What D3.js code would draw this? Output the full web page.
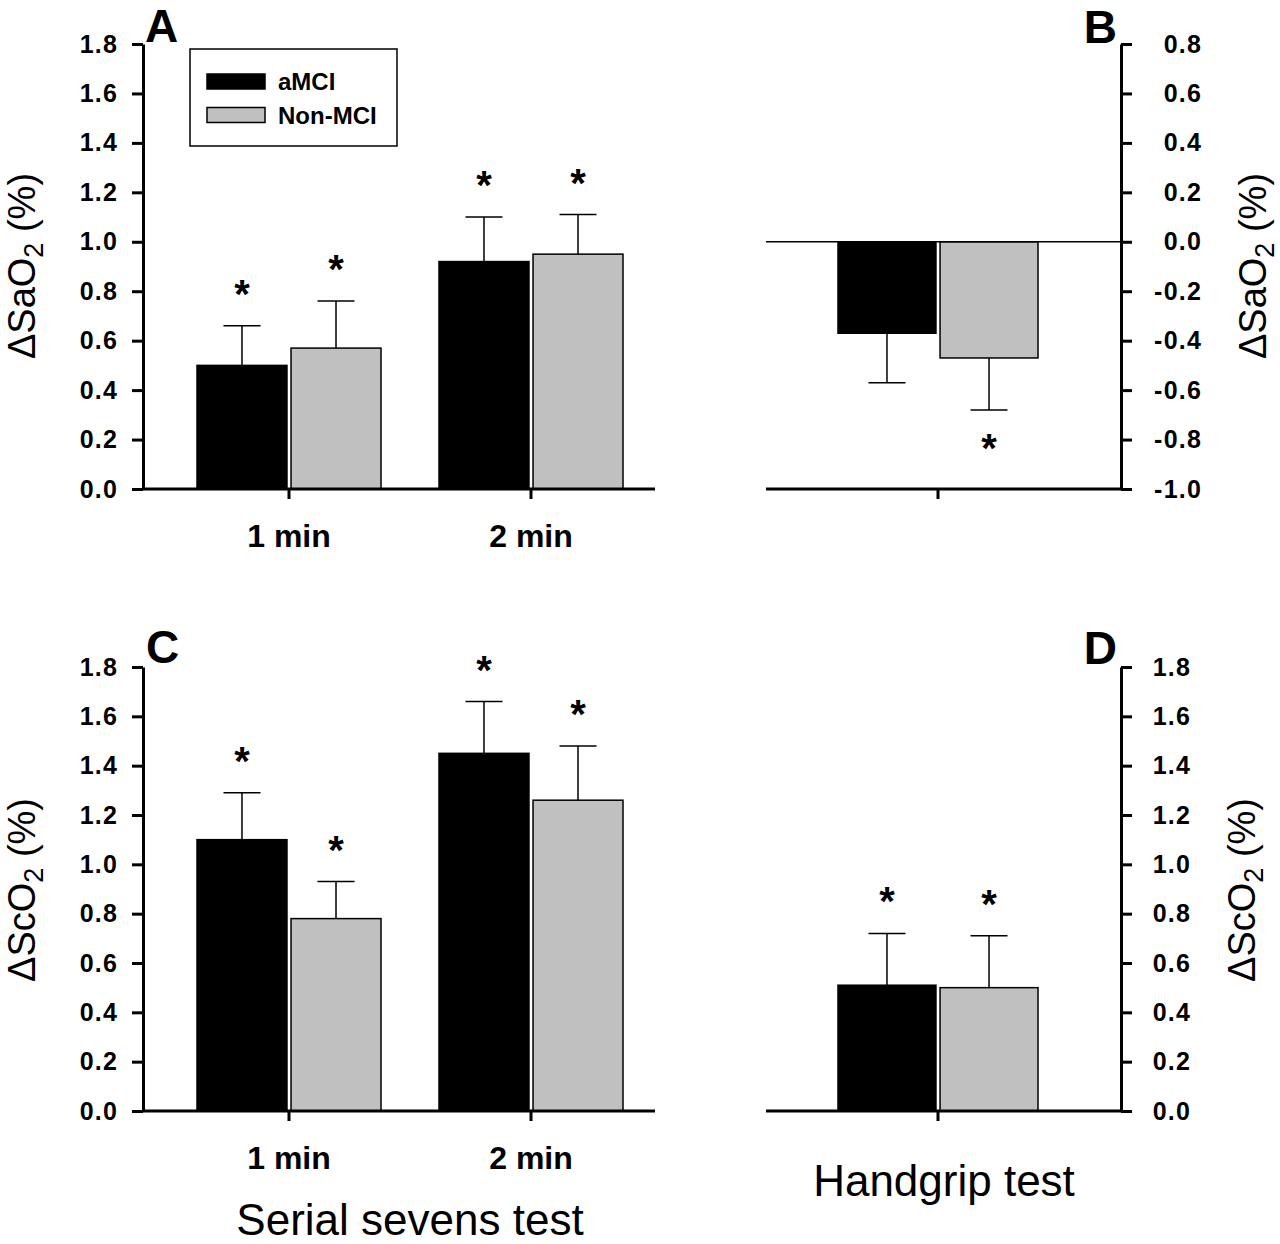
<!DOCTYPE html>
<html>
<head>
<meta charset="utf-8">
<script src="https://cdn.jsdelivr.net/npm/d3@7"></script>
<style>
  body { margin: 0; background: #fff; }
  text { font-family: "Liberation Sans", Arial, sans-serif; }
</style>
</head>
<body>
<div id="chart"></div>
<script>
// categories and series
const serialCategories = ['1 min', '2 min'];
const handgripCategories = ['Handgrip'];
const series = ['aMCI', 'Non-MCI'];
const seriesColors = ['#000000', '#c0c0c0'];

// A: delta SaO2, serial sevens test (mean, SE)
const saSerialAmci = [0.50, 0.92];
const saSerialAmciErr = [0.16, 0.18];
const saSerialNon = [0.57, 0.95];
const saSerialNonErr = [0.19, 0.16];
const saSerialSig = [[true, true], [true, true]];

// B: delta SaO2, handgrip test
const saGripAmci = [-0.37];
const saGripAmciErr = [0.20];
const saGripNon = [-0.47];
const saGripNonErr = [0.21];
const saGripSig = [[false, true]];

// C: delta ScO2, serial sevens test
const scSerialAmci = [1.10, 1.45];
const scSerialAmciErr = [0.19, 0.21];
const scSerialNon = [0.78, 1.26];
const scSerialNonErr = [0.15, 0.22];
const scSerialSig = [[true, true], [true, true]];

// D: delta ScO2, handgrip test
const scGripAmci = [0.51];
const scGripAmciErr = [0.21];
const scGripNon = [0.50];
const scGripNonErr = [0.21];
const scGripSig = [[true, true]];

// tick labels
const ticksPos = [0, 0.2, 0.4, 0.6, 0.8, 1.0, 1.2, 1.4, 1.6, 1.8];
const ticksB = [-1.0, -0.8, -0.6, -0.4, -0.2, 0, 0.2, 0.4, 0.6, 0.8];

const W = 1280, H = 1244;
const fmt = d => d3.format('.1f')(d).replace('\u2212', '-');

const svg = d3.select('#chart')
  .append('svg')
    .attr('width', W)
    .attr('height', H)

function panel(opt) {
  const g = svg.append('g')

  const y = d3.scaleLinear()
    .domain(d3.extent(opt.ticks))
    .range(opt.yRange)

  const x = d3.scaleBand()
    .domain(opt.categories)
    .range(opt.xRange)

  const xs = d3.scaleBand()
    .domain(series)
    .range([-opt.half, opt.half])
    .paddingInner(opt.gap)

  // rows: one per category
  const rows = opt.categories.map((c, i) => ({
    cat: c,
    bars: series.map((s, j) => ({
      s, j,
      v: opt.values[j][i],
      e: opt.errors[j][i],
      sig: opt.sig[i][j]
    }))
  }))

  const groups = g.selectAll('.cat')
    .data(rows)
    .enter().append('g')
      .attr('transform', d => `translate(${x(d.cat) + x.bandwidth() / 2}, 0)`)

  const bar = groups.selectAll('.bar')
    .data(d => d.bars)
    .enter().append('g')

  bar.append('rect')
    .attr('x', d => xs(d.s))
    .attr('width', xs.bandwidth())
    .attr('y', d => y(Math.max(0, d.v)))
    .attr('height', d => Math.abs(y(d.v) - y(0)))
    .attr('fill', d => seriesColors[d.j])
    .attr('stroke', '#000')
    .attr('stroke-width', 1.5)

  // error bars, away from zero
  const tip = d => d.v >= 0 ? d.v + d.e : d.v - d.e
  const mid = d => xs(d.s) + xs.bandwidth() / 2
  bar.append('line')
    .attr('x1', mid).attr('x2', mid)
    .attr('y1', d => y(d.v))
    .attr('y2', d => y(tip(d)))
    .attr('stroke', '#000')
    .attr('stroke-width', 1.5)
  bar.append('line')
    .attr('x1', d => mid(d) - 18.5)
    .attr('x2', d => mid(d) + 18.5)
    .attr('y1', d => y(tip(d)))
    .attr('y2', d => y(tip(d)))
    .attr('stroke', '#000')
    .attr('stroke-width', 1.5)

  // significance stars
  bar.filter(d => d.sig).append('text')
    .attr('x', mid)
    .attr('y', d => d.v >= 0 ? y(tip(d)) - 38 + 20 : y(tip(d)) + 32 + 20)
    .attr('text-anchor', 'middle')
    .attr('font-size', 40)
    .attr('font-weight', 'bold')
    .text('*')

  // zero line when axis starts below zero
  if (y.domain()[0] < 0) {
    g.append('line')
      .attr('x1', opt.lineX[0]).attr('x2', opt.lineX[1])
      .attr('y1', y(0)).attr('y2', y(0))
      .attr('stroke', '#000')
      .attr('stroke-width', 1.5)
  }

  // x axis baseline
  const yBase = y(y.domain()[0])
  g.append('line')
    .attr('x1', opt.lineX[0]).attr('x2', opt.lineX[1])
    .attr('y1', yBase).attr('y2', yBase)
    .attr('stroke', '#000')
    .attr('stroke-width', 3)

  const xAxis = g.append('g')
    .attr('transform', `translate(0, ${yBase})`)
    .call(d3.axisBottom(x).tickSize(10).tickSizeOuter(0).tickPadding(25)
      .tickFormat(d => opt.showCats ? d : ''))
  xAxis.select('.domain').remove()
  xAxis.selectAll('line').attr('stroke-width', 3)
  xAxis.selectAll('text')
    .attr('font-size', 32)
    .attr('font-weight', 'bold')
    .attr('fill', '#000')

  // y axis
  const axisX = opt.right ? opt.lineX[1] : opt.lineX[0]
  const yAxis = g.append('g')
    .attr('transform', `translate(${axisX}, 0)`)
    .call((opt.right ? d3.axisRight(y) : d3.axisLeft(y))
      .tickValues(opt.ticks).tickFormat(fmt).tickSize(11).tickSizeOuter(0).tickPadding(15))
  yAxis.select('.domain').attr('stroke-width', 3)
  yAxis.selectAll('line').attr('stroke-width', 3)
  yAxis.selectAll('text')
    .attr('font-size', 25)
    .attr('font-weight', 'bold')
    .attr('letter-spacing', 1.2)
    .attr('fill', '#000')
  if (opt.right) {
    yAxis.selectAll('text')
      .attr('text-anchor', 'end')
      .attr('x', opt.labelEnd - axisX)
  } else {
    yAxis.selectAll('text').attr('x', -25)
  }

  // axis title
  const t = svg.append('text')
    .attr('transform', `translate(${opt.titlePos[0]}, ${opt.titlePos[1]}) rotate(-90)`)
    .attr('text-anchor', 'middle')
    .attr('font-size', 38)
  t.append('tspan').text(opt.title)
  t.append('tspan').attr('font-size', 27).attr('dy', 8).text('2')
  t.append('tspan').attr('dy', -8).text(' (%)')

  // panel letter
  svg.append('text')
    .attr('x', opt.letterPos[0])
    .attr('y', opt.letterPos[1])
    .attr('text-anchor', opt.right ? 'end' : 'start')
    .attr('font-size', 46)
    .attr('font-weight', 'bold')
    .text(opt.letter)
}

panel({
  letter: 'A', letterPos: [145, 42],
  categories: serialCategories, showCats: true,
  values: [saSerialAmci, saSerialNon], errors: [saSerialAmciErr, saSerialNonErr], sig: saSerialSig,
  ticks: ticksPos, yRange: [489, 44],
  xRange: [168, 652], lineX: [143, 655], half: 92, gap: 0.043,
  title: '\u0394SaO', titlePos: [35, 266]
})

panel({
  letter: 'B', letterPos: [1117, 43], right: true, labelEnd: 1202,
  categories: handgripCategories, showCats: false,
  values: [saGripAmci, saGripNon], errors: [saGripAmciErr, saGripNonErr], sig: saGripSig,
  ticks: ticksB, yRange: [489, 44],
  xRange: [755, 1121], lineX: [766, 1121], half: 100, gap: 0.04,
  title: '\u0394SaO', titlePos: [1266, 266]
})

panel({
  letter: 'C', letterPos: [146, 663],
  categories: serialCategories, showCats: true,
  values: [scSerialAmci, scSerialNon], errors: [scSerialAmciErr, scSerialNonErr], sig: scSerialSig,
  ticks: ticksPos, yRange: [1111, 667],
  xRange: [168, 652], lineX: [143, 655], half: 92, gap: 0.043,
  title: '\u0394ScO', titlePos: [35, 890]
})

panel({
  letter: 'D', letterPos: [1117, 664], right: true, labelEnd: 1191,
  categories: handgripCategories, showCats: false,
  values: [scGripAmci, scGripNon], errors: [scGripAmciErr, scGripNonErr], sig: scGripSig,
  ticks: ticksPos, yRange: [1111, 667],
  xRange: [755, 1121], lineX: [766, 1121], half: 100, gap: 0.04,
  title: '\u0394ScO', titlePos: [1255, 890]
})

// bottom titles
svg.append('text')
  .attr('x', 410).attr('y', 1235)
  .attr('text-anchor', 'middle')
  .attr('font-size', 44)
  .text('Serial sevens test')

svg.append('text')
  .attr('x', 944).attr('y', 1196)
  .attr('text-anchor', 'middle')
  .attr('font-size', 44)
  .text('Handgrip test')

// legend
const legend = svg.append('g').attr('transform', 'translate(190, 49)')
legend.append('rect')
  .attr('width', 207).attr('height', 97)
  .attr('fill', '#fff').attr('stroke', '#000').attr('stroke-width', 1.5)
const item = legend.selectAll('.item')
  .data(series)
  .enter().append('g')
    .attr('transform', (d, i) => `translate(17, ${25 + i * 33.5})`)
item.append('rect')
  .attr('width', 58).attr('height', 15)
  .attr('fill', (d, i) => seriesColors[i])
  .attr('stroke', '#000').attr('stroke-width', 1.5)
item.append('text')
  .attr('x', 71).attr('y', 16)
  .attr('font-size', 24)
  .attr('font-weight', 'bold')
  .text(d => d)
</script>
</body>
</html>
